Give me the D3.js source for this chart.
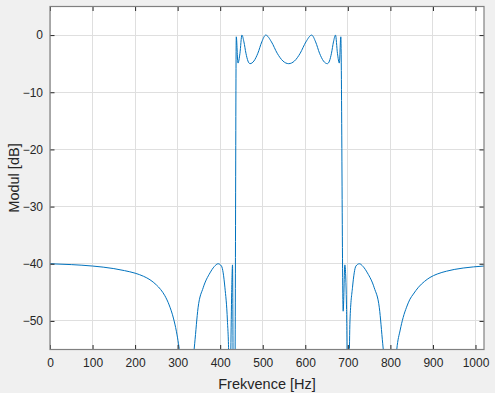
<!DOCTYPE html>
<html>
<head>
<meta charset="utf-8">
<script src="https://cdn.jsdelivr.net/npm/d3@7"></script>
<style>
  html, body { margin: 0; padding: 0; background: #f0f0f0; }
  svg { display: block; }
  text { font-family: "Liberation Sans", Arial, Helvetica, sans-serif; fill: #262626; }
</style>
</head>
<body>
<svg id="chart" width="495" height="393"></svg>
<script>
// ---- data ----
const freqHz = [0, 50, 100, 150, 175, 200, 220, 235, 250, 260, 270, 280, 290, 297, 302, 309, 318, 329, 340, 348,
  360, 376, 386, 395, 403, 411, 417, 420, 422, 425, 427, 429, 431, 434.5, 437.8, 441.8, 446.4, 451, 455.75,
  460.5, 465.25, 470, 479.25, 488.5, 497.75, 507, 520.5, 534, 547.5, 561, 574.5, 588, 601.5, 615, 624.25,
  633.5, 642.75, 652, 656.75, 661.5, 666.25, 671, 675.6, 680, 683.5, 689, 693, 697, 700, 703, 705, 711, 719,
  727, 736, 746, 762, 774, 782, 793, 804, 815, 823, 830, 838, 846, 854, 866, 880, 893, 910, 932, 950, 971,
  995, 1020];
const modulDb = [-40.0, -40.15, -40.4, -40.85, -41.2, -41.65, -42.2, -42.8, -43.7, -44.5, -45.6, -47.2, -49.5,
  -51.8, -54.0, -58, -68, -62, -54, -47.7, -44.2, -41.6, -40.5, -40.0, -40.4, -44.1, -50.0, -56, -68, -55, -45,
  -40.2, -65, -62, -0.3, -4.9, -3.2, 0, -1.19, -3.18, -4.54, -5.0, -4.54, -3.18, -1.19, 0, -1.19, -3.18, -4.54,
  -5.0, -4.54, -3.18, -1.19, 0, -1.19, -3.18, -4.54, -5.0, -4.54, -3.18, -1.19, 0, -3.2, -4.9, -0.3, -48.3,
  -40.2, -48, -65, -58, -50, -44.1, -40.4, -40.0, -40.5, -41.6, -44.2, -47.7, -54, -62, -68, -55, -51.6, -49.4,
  -47.6, -46.2, -45.3, -44.1, -43.1, -42.4, -41.8, -41.3, -41.0, -40.75, -40.55, -40.4];
const xTicks = [0, 100, 200, 300, 400, 500, 600, 700, 800, 900, 1000];
const yTicks = [-50, -40, -30, -20, -10, 0];
const xDomain = [0, 1020];
const yDomain = [-55, 5];
const xLabel = "Frekvence [Hz]";
const yLabel = "Modul [dB]";

// ---- layout ----
const L = 50, R = 484, T = 6.5, B = 349.5;
const svg = d3.select("#chart");
const x = d3.scaleLinear().domain(xDomain).range([L, R]);
const y = d3.scaleLinear().domain(yDomain).range([B, T]);

svg.append("rect").attr("x", L).attr("y", T).attr("width", R - L).attr("height", B - T).attr("fill", "#ffffff");

// grid
const grid = svg.append("g").attr("stroke", "#dfdfdf").attr("stroke-width", 1).attr("shape-rendering", "crispEdges");
xTicks.forEach(t => grid.append("line").attr("x1", x(t)).attr("x2", x(t)).attr("y1", T).attr("y2", B));
yTicks.forEach(t => grid.append("line").attr("x1", L).attr("x2", R).attr("y1", y(t)).attr("y2", y(t)));

// curve
svg.append("clipPath").attr("id", "clip").append("rect")
  .attr("x", L).attr("y", T).attr("width", R - L).attr("height", B - T);
const pts = freqHz.map((f, i) => [f, modulDb[i]]);
const line = d3.line().x(d => x(d[0])).y(d => y(d[1])).curve(d3.curveMonotoneX);
svg.append("path").attr("d", line(pts)).attr("clip-path", "url(#clip)")
  .attr("fill", "none").attr("stroke", "#0072BD").attr("stroke-width", 1);

// axes (box with inward ticks)
const tl = 4.5;
const axB = d3.axisBottom(x).tickValues(xTicks).tickSizeInner(-tl).tickSizeOuter(0).tickPadding(9).tickFormat(d3.format("d"));
const axT = d3.axisTop(x).tickValues(xTicks).tickSizeInner(-tl).tickSizeOuter(0).tickFormat("");
const axL = d3.axisLeft(y).tickValues(yTicks).tickSizeInner(-tl).tickSizeOuter(0).tickPadding(7).tickFormat(d3.format("d"));
const axR = d3.axisRight(y).tickValues(yTicks).tickSizeInner(-tl).tickSizeOuter(0).tickFormat("");

function style(g) {
  g.select(".domain").remove();
  g.selectAll(".tick line").attr("stroke", "#262626").attr("stroke-width", 1);
  g.selectAll(".tick text").attr("font-size", 12).attr("fill", "#262626")
    .style("font-family", '"Liberation Sans", Arial, Helvetica, sans-serif');
}
svg.append("g").attr("transform", `translate(0,${B})`).call(axB).call(style);
svg.append("g").attr("transform", `translate(0,${T})`).call(axT).call(style);
svg.append("g").attr("transform", `translate(${L},0)`).call(axL).call(style);
svg.append("g").attr("transform", `translate(${R},0)`).call(axR).call(style);

svg.append("rect").attr("x", L).attr("y", T).attr("width", R - L).attr("height", B - T)
  .attr("fill", "none").attr("stroke", "#808080").attr("stroke-width", 1.2);

// labels
svg.append("text").attr("x", (L + R) / 2).attr("y", 389).attr("text-anchor", "middle")
  .attr("font-size", 14.5).text(xLabel);
svg.append("text").attr("transform", `translate(18.5,${(T + B) / 2}) rotate(-90)`).attr("text-anchor", "middle")
  .attr("font-size", 14.5).text(yLabel);
</script>
</body>
</html>
